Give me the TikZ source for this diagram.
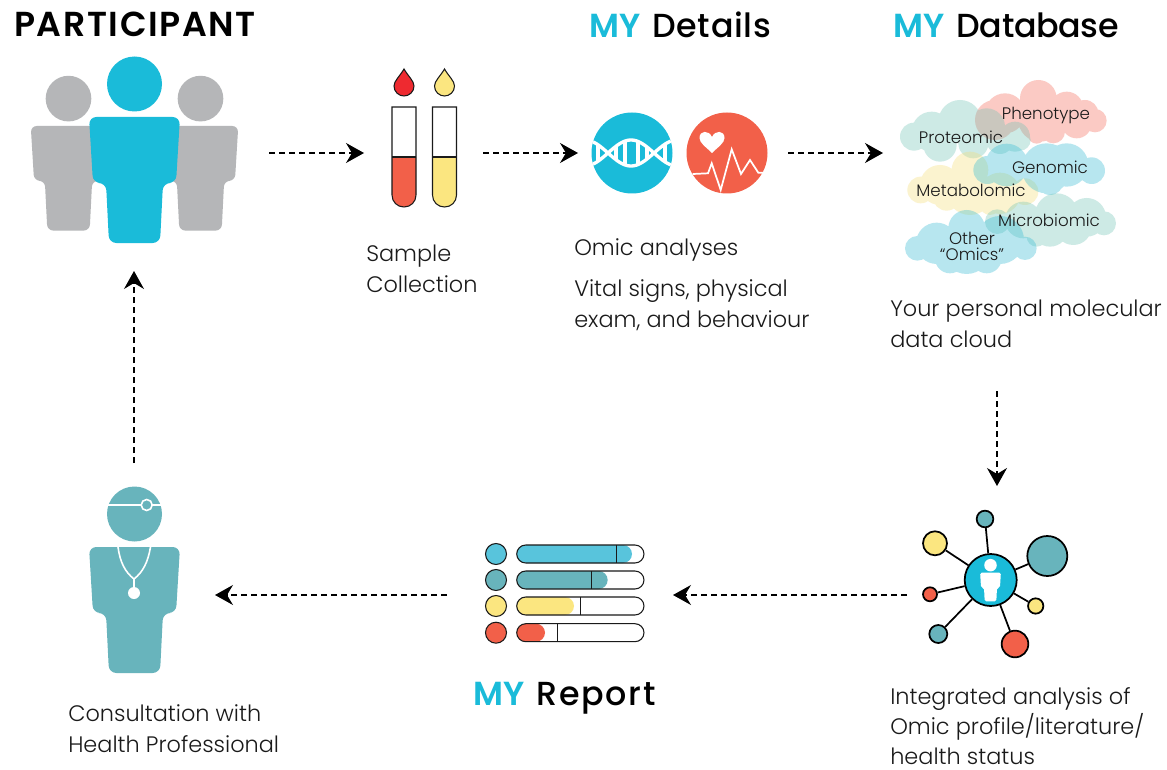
\documentclass[tikz,border=0pt]{standalone}
\usepackage{fontspec}
\setmainfont{Poppins Light}
\newfontfamily\headf[LetterSpace=4.6]{Poppins SemiBold}
\newfontfamily\myf{Poppins SemiBold}
\newfontfamily\medda[LetterSpace=2]{Poppins Medium}
\newfontfamily\meddb[LetterSpace=-1]{Poppins Medium}
\newfontfamily\meddc[LetterSpace=5]{Poppins Medium}
\usetikzlibrary{arrows.meta}
\definecolor{cyanb}{HTML}{1ABBD9}
\definecolor{greyp}{HTML}{B5B6B8}
\definecolor{tealp}{HTML}{68B4BC}
\definecolor{coral}{HTML}{F26049}
\definecolor{yell}{HTML}{FBE680}
\definecolor{dropred}{HTML}{EE2A30}
\definecolor{barblue}{HTML}{58C4DC}
\definecolor{inkk}{HTML}{1A1A1A}
\definecolor{cpink}{HTML}{F46856}
\definecolor{cmint}{HTML}{70C3B5}
\definecolor{cblue}{HTML}{31BAD4}
\definecolor{cyel}{HTML}{F4DD76}
\tikzset{
  flow/.style={draw=black,line width=1pt,dash pattern=on 4.5pt off 3pt,-{Stealth[length=13.5pt,width=15pt,inset=4.5pt]}},
  body/.style={anchor=base west,inner sep=0pt,font=\fontsize{16.8pt}{20pt}\selectfont,text=inkk},
  head/.style={anchor=base west,inner sep=0pt,font=\fontsize{25pt}{28pt}\selectfont,text=black},
  cloudtxt/.style={inner sep=0pt,font=\fontsize{12.5pt}{13pt}\selectfont,text=inkk,align=center},
  leaf/.style={circle,draw=black,line width=1.3pt,inner sep=0pt},
  link/.style={draw=black,line width=1.3pt},
  outl/.style={draw=inkk,line width=.8pt},
}
% x, body top y, scale, colour, corner radius
\newcommand\figperson[5]{%
  \begin{scope}[shift={(#1,#2)},scale=#3]
    \fill[#4] (0,-33) circle[radius=27.5];
    \fill[#4,rounded corners=#5] (-45.5,0) -- (45.5,0) -- (41.5,66) -- (28.5,66) -- (25.5,126) -- (-25.5,126) -- (-28.5,66) -- (-41.5,66) -- cycle;
  \end{scope}}
\newcommand\figdrop[2]{%
  \begin{scope}[shift={(#1,0)}]
    \draw[outl,fill=#2] (0,69) .. controls (4,76) and (10,81) .. (10,86) .. controls (10,92) and (5,96) .. (0,96) .. controls (-5,96) and (-10,92) .. (-10,86) .. controls (-10,81) and (-4,76) .. (0,69) -- cycle;
  \end{scope}}
\newcommand\figtube[2]{%
  \begin{scope}[shift={(#1,0)}]
    \fill[#2] (-12,157) -- (12,157) -- (12,195) .. controls (12,202) and (6.6,207) .. (0,207) .. controls (-6.6,207) and (-12,202) .. (-12,195) -- cycle;
    \draw[outl] (-12,157) -- (12,157);
    \draw[outl] (-12,107) -- (12,107) -- (12,195) .. controls (12,202) and (6.6,207) .. (0,207) .. controls (-6.6,207) and (-12,202) .. (-12,195) -- cycle;
  \end{scope}}
% y, fill end, mark, colour
\newcommand\figbar[4]{%
  \fill[#4] (496,#1) circle[radius=10.5];
  \draw[outl] (496,#1) circle[radius=10.5];
  \fill[#4,rounded corners=6.8pt] (516.7,#1-9) rectangle (#2,#1+9);
  \draw[outl,rounded corners=6.8pt] (516.7,#1-9) rectangle (644,#1+9);
  \draw[outl,line width=.6pt] (#3,#1-9) -- (#3,#1+9);}
\newcommand\rung[1]{\draw[white,line width=2.3pt] (#1,{153-13*cos((#1-631)*3.913)}) -- (#1,{153+13*cos((#1-631)*3.913)});}
\begin{document}
\begin{tikzpicture}[x=.75pt,y=-.75pt]
\useasboundingbox (0,0) rectangle (1167,770);
\fill[white] (0,0) rectangle (1167,770);
% headings
\node[head] (hpart) at (14,37) {\fontsize{26pt}{28pt}\headf PARTICIPANT};
\node[head] (hdet) at (589,38) {\myf\textcolor{cyanb}{MY}\hspace{9pt}\medda Details};
\node[head] (hdb) at (893,38) {\myf\textcolor{cyanb}{MY}\hspace{9pt}\meddb Database};
\node[head] (hrep) at (473,705) {\myf\textcolor{cyanb}{MY}\hspace{9pt}\meddc Report};
% people
\figperson{68.5}{126}{.83}{greyp}{4.5pt}
\figperson{200.5}{126}{.83}{greyp}{4.5pt}
\figperson{134.5}{117}{1}{cyanb}{5.5pt}
% samples
\figdrop{404}{dropred}
\figdrop{444.5}{yell}
\figtube{404}{coral}
\figtube{444.5}{yell}
\node[body] (t1a) at (366,261) {Sample};
\node[body] (t1b) at (366,292) {Collection};
% DNA
\fill[cyanb] (632,153) circle[radius=40.5];
\begin{scope}
  \clip (632,153) circle[radius=40.5];
  \draw[white,line width=2.5pt] plot[domain=585:680,samples=60] (\x,{153+13*cos((\x-631)*3.913)});
  \draw[white,line width=2.5pt] plot[domain=585:680,samples=60] (\x,{153-13*cos((\x-631)*3.913)});
  \rung{598}\rung{616}\rung{625}\rung{638}\rung{647}\rung{665}
\end{scope}
% vitals
\fill[coral] (727,153) circle[radius=40.5];
\begin{scope}[shift={(712,142)}]
  \fill[white] (0,11) .. controls (-6,5) and (-12.5,1) .. (-12.5,-4) .. controls (-12.5,-12) and (-3,-12) .. (0,-5) .. controls (3,-12) and (12.5,-12) .. (12.5,-4) .. controls (12.5,1) and (6,5) .. (0,11) -- cycle;
\end{scope}
\draw[white,line width=1.3pt,line join=miter] (692.7,174) -- (708,173.3) -- (711.7,163.3) -- (720.7,190) -- (731.7,149.3) -- (741,174) -- (750,160) -- (758.3,172.7) -- (763.3,172.7);
\node[body] (t2a) at (574,255) {Omic analyses};
\node[body] (t2b) at (574,296) {Vital signs, physical};
\node[body] (t2c) at (574,327) {exam, and behaviour};
% clouds
\begin{scope}[shift={(890,80)},scale=.3333]
  \fill[cpink,fill opacity=.35] (445,55) circle[radius=55] (345,100) circle[radius=60] (530,85) circle[radius=50] (585,100) circle[radius=40] (615,122) circle[radius=35] (560,130) circle[radius=45] (450,120) circle[radius=65] (315,120) circle[radius=60] (440,165) circle[radius=26] (490,155) circle[radius=35];
  \fill[cmint,fill opacity=.35] (72,170) circle[radius=42] (125,155) circle[radius=60] (210,125) circle[radius=65] (290,140) circle[radius=55] (375,170) circle[radius=45] (150,195) circle[radius=50] (250,190) circle[radius=45] (330,180) circle[radius=42] (390,180) circle[radius=32];
  \fill[cyel,fill opacity=.35] (92,330) circle[radius=40] (150,315) circle[radius=60] (240,270) circle[radius=55] (240,335) circle[radius=70] (330,340) circle[radius=62] (405,335) circle[radius=40] (170,350) circle[radius=42] (300,375) circle[radius=30];
  \fill[cblue,fill opacity=.35] (605,272) circle[radius=40] (530,255) circle[radius=65] (470,265) circle[radius=75] (350,255) circle[radius=64] (292,270) circle[radius=42] (480,305) circle[radius=40];
  \fill[cmint,fill opacity=.35] (322,425) circle[radius=37] (400,420) circle[radius=55] (500,405) circle[radius=65] (590,412) circle[radius=58] (642,430) circle[radius=36] (480,445) circle[radius=55] (440,470) circle[radius=30] (550,440) circle[radius=55];
  \fill[cblue,fill opacity=.35] (82,505) circle[radius=37] (140,490) circle[radius=62] (230,445) circle[radius=55] (230,510) circle[radius=72] (330,480) circle[radius=72] (405,505) circle[radius=35] (180,535) circle[radius=45] (290,535) circle[radius=45];
\end{scope}
\node[cloudtxt] (cphe) at (1046,115) {Phenotype};
\node[cloudtxt] (cpro) at (961,137) {Proteomic};
\node[cloudtxt] (cgen) at (1050,167) {Genomic};
\node[cloudtxt] (cmet) at (971,190) {Metabolomic};
\node[cloudtxt] (cmic) at (1049,220) {Microbiomic};
\node[cloudtxt] (coth) at (972,246) {Other\\[-1pt]“Omics”};
\node[body] (t3a) at (890,316) {Your personal molecular};
\node[body] (t3b) at (890,347) {data cloud};
% network
\node[leaf,fill=cyanb,minimum size=39pt] (hub) at (990.7,580) {};
\node[leaf,fill=tealp,minimum size=12.5pt] (n1) at (985,519) {};
\node[leaf,fill=yell,minimum size=18pt] (n2) at (935,543.3) {};
\node[leaf,fill=tealp,minimum size=30pt] (n3) at (1047.3,556) {};
\node[leaf,fill=coral,minimum size=10.5pt] (n4) at (930,594.3) {};
\node[leaf,fill=yell,minimum size=11.5pt] (n5) at (1035.7,606) {};
\node[leaf,fill=tealp,minimum size=13.5pt] (n6) at (938.3,634) {};
\node[leaf,fill=coral,minimum size=20pt] (n7) at (1015,644) {};
\foreach \n in {n1,n2,n3,n4,n5,n6,n7} \draw[link] (hub) -- (\n);
\figperson{990.5}{572.7}{.228}{white}{1.2pt}
\node[body] (t4a) at (890,704) {Integrated analysis of};
\node[body] (t4b) at (890,734) {Omic profile/literature/};
\node[body] (t4c) at (890,764) {health status};
% report
\figbar{554}{632}{616}{barblue}
\figbar{580}{607.7}{591.3}{tealp}
\figbar{606}{574}{580.3}{yell}
\figbar{632.7}{545}{557}{coral}
% doctor
\figperson{134.5}{547}{1}{tealp}{5.5pt}
\draw[white,line width=1.2pt] (107,505) -- (161,505);
\draw[white,line width=1.2pt,fill=tealp] (146.7,505) circle[radius=5.5];
\draw[white,line width=1.2pt] (118,547) .. controls (120,562) and (125,572) .. (134,579) .. controls (143,572) and (148,562) .. (150.5,547);
\draw[white,line width=1.2pt] (134,579) -- (134,590);
\fill[white] (134,593) circle[radius=6];
\node[body] (t5a) at (68,721) {Consultation with};
\node[body] (t5b) at (68,752) {Health Professional};
% flow arrows
\coordinate (a1) at (269,153); \coordinate (a2) at (364,153);
\coordinate (b1) at (483,153); \coordinate (b2) at (578,153);
\coordinate (c1) at (788,153); \coordinate (c2) at (883,153);
\coordinate (d1) at (997,391); \coordinate (d2) at (997,486);
\coordinate (e1) at (907,595); \coordinate (e2) at (673,595);
\coordinate (f1) at (447,595); \coordinate (f2) at (215,595);
\coordinate (g1) at (134,463); \coordinate (g2) at (134,271);
\draw[flow] (a1) -- (a2);
\draw[flow] (b1) -- (b2);
\draw[flow] (c1) -- (c2);
\draw[flow] (d1) -- (d2);
\draw[flow] (e1) -- (e2);
\draw[flow] (f1) -- (f2);
\draw[flow] (g1) -- (g2);
\end{tikzpicture}
\end{document}
